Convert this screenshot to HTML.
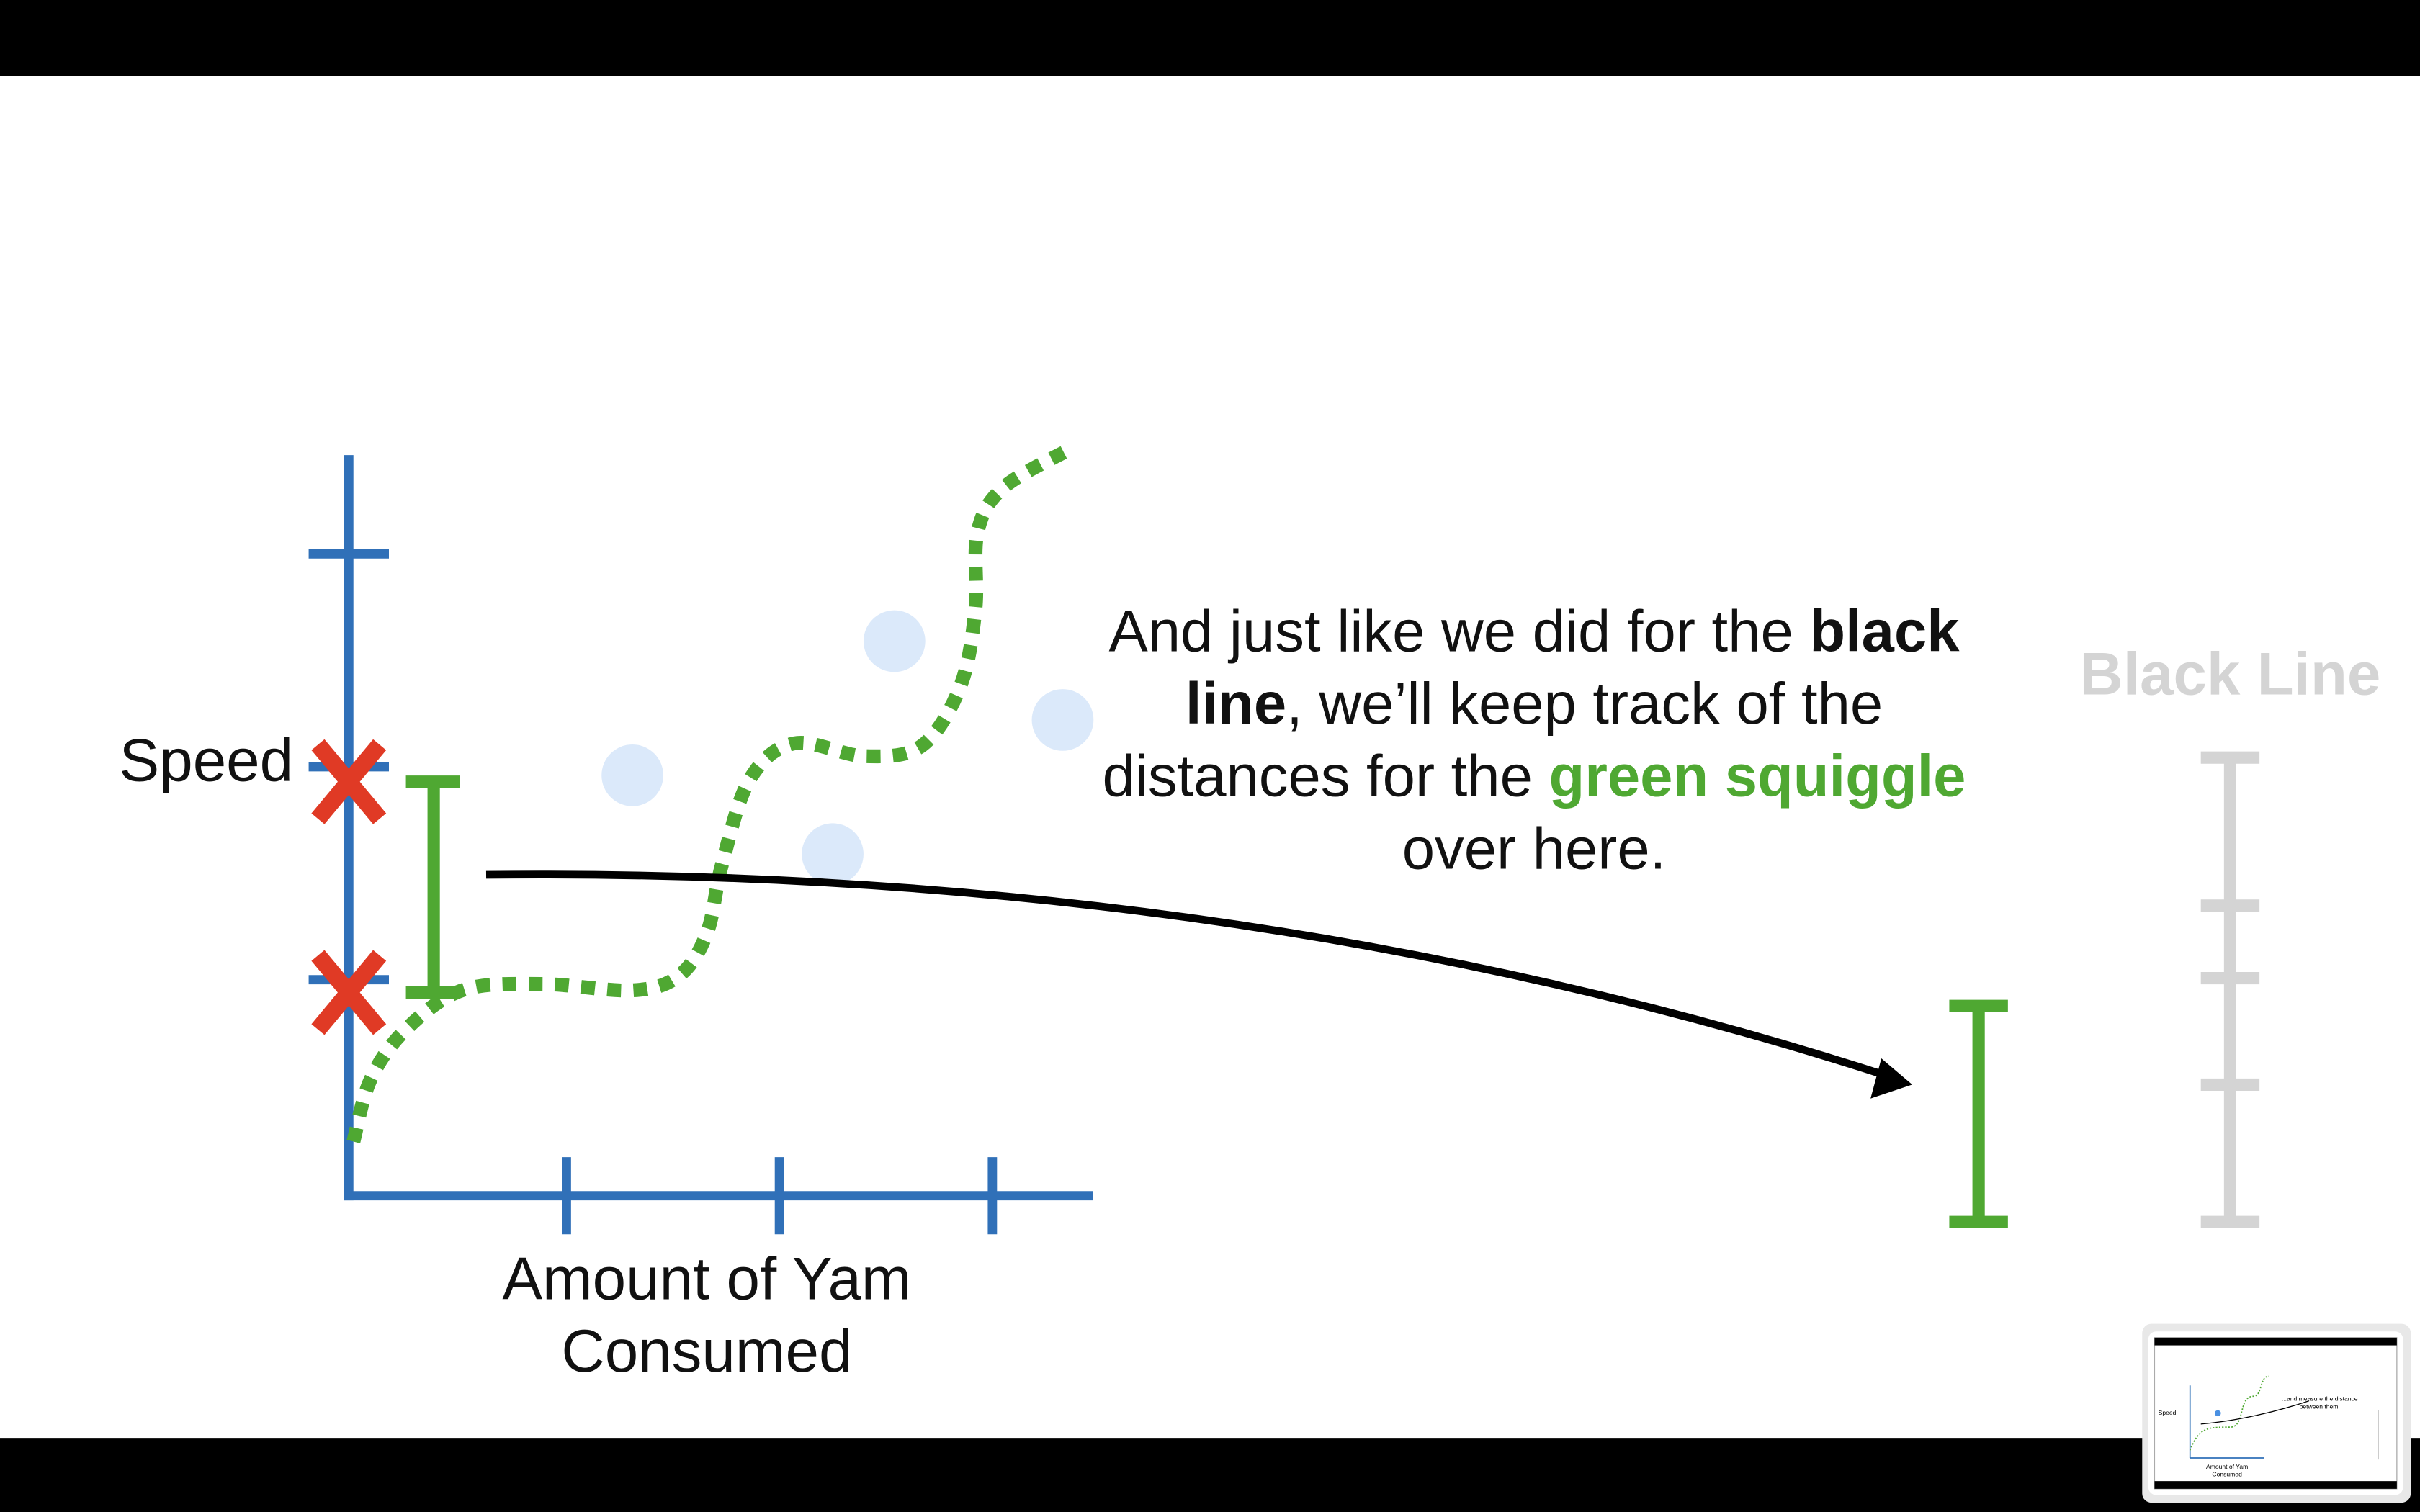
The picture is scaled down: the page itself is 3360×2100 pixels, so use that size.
<!DOCTYPE html>
<html><head><meta charset="utf-8"><style>
html,body{margin:0;padding:0;background:#fff;overflow:hidden}
svg{display:block}
text{font-family:"Liberation Sans",Arial,sans-serif}
</style></head><body>
<svg id="s" width="3360" height="2100" viewBox="0 0 1568 980" xmlns="http://www.w3.org/2000/svg">
<rect x="0" y="0" width="1568" height="980" fill="#fff"/>
<rect x="0" y="0" width="1568" height="49" fill="#000"/>
<rect x="0" y="932" width="1568" height="48" fill="#000"/>
<g id="chart"></g>
<text x="190" y="506" font-size="39" text-anchor="end" fill="#111">Speed</text>
<text x="458" y="842" font-size="39" text-anchor="middle" fill="#111">Amount of Yam</text>
<text x="458" y="889" font-size="39" text-anchor="middle" fill="#111">Consumed</text>
<g font-size="38" text-anchor="middle" fill="#111">
<text x="994" y="422">And just like we did for the <tspan font-weight="bold">black</tspan></text>
<text x="994" y="469"><tspan font-weight="bold">line</tspan>, we’ll keep track of the</text>
<text x="994" y="516">distances for the <tspan font-weight="bold" fill="#4fa832">green squiggle</tspan></text>
<text x="994" y="563">over here.</text>
</g>
<text x="1445" y="450" font-size="39" font-weight="bold" text-anchor="middle" fill="#d4d4d4">Black Line</text>
<g stroke="#d4d4d4" stroke-width="8">
<line x1="1445" y1="491" x2="1445" y2="792"/>
<line x1="1426" y1="491" x2="1464" y2="491"/>
<line x1="1426" y1="587" x2="1464" y2="587"/>
<line x1="1426" y1="634" x2="1464" y2="634"/>
<line x1="1426" y1="703" x2="1464" y2="703"/>
<line x1="1426" y1="792" x2="1464" y2="792"/>
</g>
<g stroke="#4fa832" stroke-width="8">
<line x1="1282" y1="652" x2="1282" y2="792"/>
<line x1="1263" y1="652" x2="1301" y2="652"/>
<line x1="1263" y1="792" x2="1301" y2="792"/>
</g>
<path d="M315,567 C700,563 1000,625 1225,698" fill="none" stroke="#000" stroke-width="5"/>
<polygon points="1239,703 1212,712 1219,686" fill="#000"/>
<g>
<rect x="1388" y="858" width="174" height="116" rx="6" fill="#e8e8e8"/>
<rect x="1392" y="863" width="165" height="106" rx="5" fill="#fff"/>
<rect x="1396" y="867" width="157" height="98" fill="#fff" stroke="#aaa" stroke-width="0.6"/>
<rect x="1396" y="867" width="157" height="5" fill="#000"/>
<rect x="1396" y="960" width="157" height="5" fill="#000"/>
<g stroke="#3070b8" stroke-width="0.8"><line x1="1419" y1="898" x2="1419" y2="945"/><line x1="1419" y1="945" x2="1467" y2="945"/></g>
<path d="M1419,940 C1425,925 1430,925 1445,925 C1455,925 1450,905 1460,905 C1466,905 1464,892 1470,892" fill="none" stroke="#4fa832" stroke-width="0.8" stroke-dasharray="1 1"/>
<circle cx="1437" cy="916" r="2" fill="#4a90e2"/>
<path d="M1426,923 C1450,921 1475,915 1496,908" fill="none" stroke="#000" stroke-width="0.6"/>
<text x="1503" y="908" font-size="4" text-anchor="middle">...and measure the distance</text>
<text x="1503" y="913" font-size="4" text-anchor="middle">between them.</text>
<text x="1410" y="917" font-size="4" text-anchor="end">Speed</text>
<text x="1443" y="952" font-size="4" text-anchor="middle">Amount of Yam</text>
<text x="1443" y="957" font-size="4" text-anchor="middle">Consumed</text>
<line x1="1541" y1="914" x2="1541" y2="946" stroke="#ccc" stroke-width="0.8"/>
</g>
</svg>
<script>
// Data (axis units: each tick = 1)
const pointX = [1.31, 2.54, 2.25, 3.33];
const pointY = [1.96, 2.59, 1.59, 2.22];
const squiggleX = [0, 0.08, 0.24, 0.51, 0.88, 1.31, 1.53, 1.66, 1.73, 1.86, 2.07, 2.40, 2.67, 2.85, 2.92, 2.93, 3.05, 3.36];
const squiggleY = [0.24, 0.53, 0.76, 0.95, 0.98, 0.95, 1.02, 1.22, 1.54, 1.94, 2.11, 2.05, 2.10, 2.38, 2.74, 3.10, 3.31, 3.49];
const xTicks = [1, 2, 3];
const yTicks = [1, 2, 3];
const crossY = [1.93, 0.94];

const NS = 'http://www.w3.org/2000/svg';
const g = document.getElementById('chart');
const sx = v => 229 + v * 138;
const sy = v => 773 - v * 138;
function mk(tag, attrs) { const e = document.createElementNS(NS, tag); for (const k in attrs) e.setAttribute(k, attrs[k]); g.appendChild(e); return e; }
const blue = '#3070b8';

pointX.forEach((x, i) => {
  const c = mk('circle', {cx: sx(x), cy: sy(pointY[i]), r: 20, fill: '#dbe9fa'});
  
  
});
let ya = mk('line', {x1: 226, y1: 295, x2: 226, y2: 778, stroke: blue, 'stroke-width': 6});


let xa = mk('line', {x1: 223, y1: 775, x2: 708, y2: 775, stroke: blue, 'stroke-width': 6});


yTicks.forEach(t => {
  const l = mk('line', {x1: 200, y1: sy(t), x2: 252, y2: sy(t), stroke: blue, 'stroke-width': 6});
  
  
});
xTicks.forEach(t => {
  const l = mk('line', {x1: sx(t), y1: 750, x2: sx(t), y2: 800, stroke: blue, 'stroke-width': 6});
  
  
});
const P = squiggleX.map((x, i) => [sx(x), sy(squiggleY[i])]);
let d = 'M' + P[0][0] + ',' + P[0][1];
for (let i = 0; i < P.length - 1; i++) {
  const p0 = P[i - 1] || P[i], p1 = P[i], p2 = P[i + 1], p3 = P[i + 2] || p2;
  d += ' C' + (p1[0] + (p2[0] - p0[0]) / 6) + ',' + (p1[1] + (p2[1] - p0[1]) / 6) + ' ' +
       (p2[0] - (p3[0] - p1[0]) / 6) + ',' + (p2[1] - (p3[1] - p1[1]) / 6) + ' ' + p2[0] + ',' + p2[1];
}
const sq = mk('path', {d: d, fill: 'none', stroke: '#4fa832', 'stroke-width': 9, 'stroke-dasharray': '9 8'});


crossY.forEach(v => {
  const cy = sy(v), cx = 226;
  const p = mk('path', {d: `M${cx-20},${cy-24} L${cx+20},${cy+24} M${cx+20},${cy-24} L${cx-20},${cy+24}`, stroke: '#e03a25', 'stroke-width': 11, fill: 'none'});
  
  
});
const barTop = sy(crossY[0]), barBot = sy(crossY[1]);
const bar = mk('path', {d: `M281,${barTop} L281,${barBot} M263,${barTop} L298,${barTop} M263,${barBot} L298,${barBot}`, stroke: '#4fa832', 'stroke-width': 8, fill: 'none'});


</script>
</body></html>
